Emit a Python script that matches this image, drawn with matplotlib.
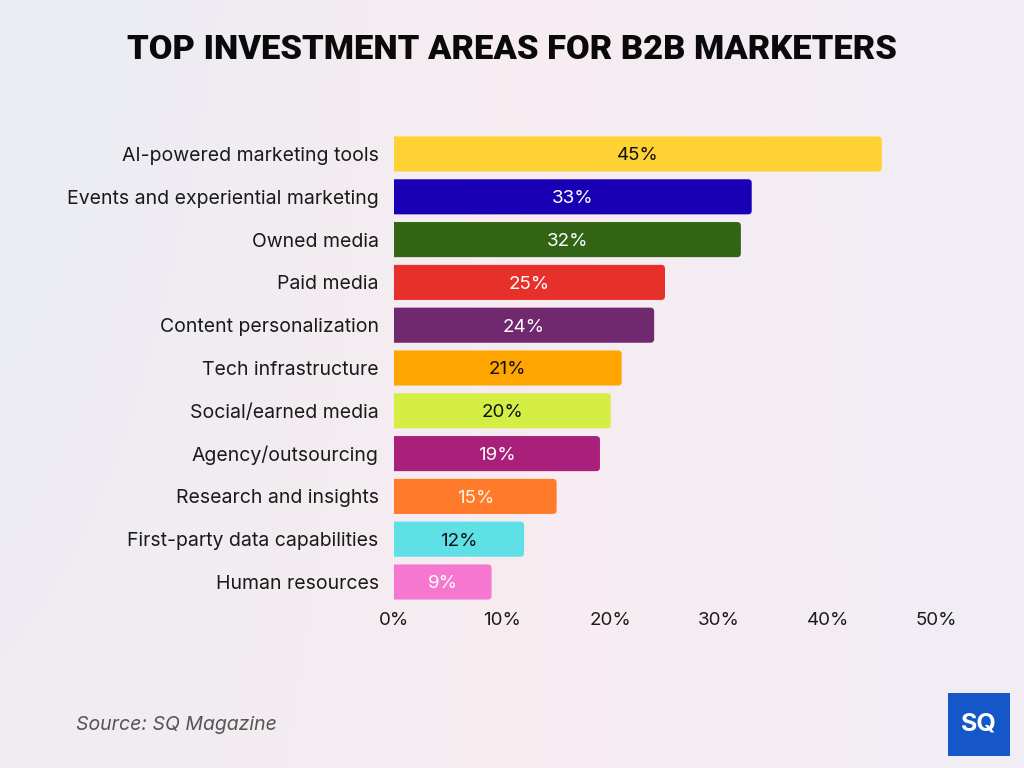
import numpy as np
import matplotlib
matplotlib.use("Agg")
import matplotlib.pyplot as plt
from matplotlib.patches import FancyBboxPatch, Rectangle

categories = [
    "AI-powered marketing tools",
    "Events and experiential marketing",
    "Owned media",
    "Paid media",
    "Content personalization",
    "Tech infrastructure",
    "Social/earned media",
    "Agency/outsourcing",
    "Research and insights",
    "First-party data capabilities",
    "Human resources",
]
values = [45, 33, 32, 25, 24, 21, 20, 19, 15, 12, 9]
bar_colors = ["#FFD234", "#1A00B4", "#336314", "#E8302A", "#70286E", "#FFA500",
              "#D4EE44", "#A8207A", "#FF7A2A", "#5EE0E6", "#F577CF"]
label_colors = ["#111111", "white", "white", "white", "white", "#111111",
                "#111111", "white", "#FFF3E0", "#111111", "white"]
xticks = [0, 10, 20, 30, 40, 50]
xtick_labels = ["0%", "10%", "20%", "30%", "40%", "50%"]

plt.rcParams['font.family'] = ['Inter', 'DejaVu Sans']

fig = plt.figure(figsize=(10.24, 7.68), dpi=100)

# background gradient
bg = fig.add_axes([0, 0, 1, 1], zorder=-10)
bg.axis("off")
h, w = 96, 128
yy, xx = np.mgrid[0:1:h * 1j, 0:1:w * 1j]
c_left = np.array([233, 236, 244]) / 255
c_mid = np.array([247, 236, 241]) / 255
c_right = np.array([241, 238, 246]) / 255
t = xx[..., None]
img = np.where(t < 0.5, c_left + (c_mid - c_left) * (t / 0.5),
               c_mid + (c_right - c_mid) * ((t - 0.5) / 0.5))
img = img + (yy[..., None]) * (np.array([247, 238, 240]) / 255 - img) * 0.5 * (1 - t)
bg.imshow(np.clip(img, 0, 1), aspect="auto", extent=[0, 1, 0, 1], origin="upper")
bg.set_xlim(0, 1)
bg.set_ylim(0, 1)

ax = fig.add_axes([394 / 1024, 1 - 603.4 / 768, (936 - 394) / 1024, (603.4 - 132.6) / 768])
ax.patch.set_alpha(0)
ypos = np.arange(len(categories))
bars = ax.barh(ypos, values, height=0.82, color=bar_colors)
ax.set_xlim(0, 50)
ax.set_ylim(10.5, -0.5)

# rounded right corners: replace bars with fancy boxes
for b in bars:
    b.set_visible(False)
    x0, y0 = b.get_x(), b.get_y()
    bw, bh = b.get_width(), b.get_height()
    fb = FancyBboxPatch((x0 - 1.0, y0), bw + 1.0, bh,
                        boxstyle="round,pad=0,rounding_size=0.35",
                        mutation_aspect=0.25,
                        facecolor=b.get_facecolor(), edgecolor="none",
                        clip_on=True)
    ax.add_patch(fb)

for i, v in enumerate(values):
    ax.text(v / 2, i, f"{v}%", ha="center", va="center_baseline",
            fontsize=13.5, color=label_colors[i])

ax.set_yticks(ypos)
ax.set_yticklabels(categories, fontsize=14, color="#1a1a1a")
ax.set_xticks(xticks)
ax.set_xticklabels(xtick_labels, fontsize=13.5, color="#1a1a1a")
ax.tick_params(axis="both", length=0)
ax.tick_params(axis="y", pad=11)
ax.tick_params(axis="x", pad=6)
for s in ax.spines.values():
    s.set_visible(False)

fig.text(0.5, 1 - 50 / 768, "TOP INVESTMENT AREAS FOR B2B MARKETERS",
         ha="center", va="center", fontsize=24.8, fontweight="black",
         family=["Roboto", "DejaVu Sans"], color="#0a0a0a")

fig.text(76 / 1024, 1 - 725 / 768, "Source: SQ Magazine", ha="left", va="center",
         fontsize=14, style="italic", color="#555555")

# logo
logo = fig.add_axes([948 / 1024, 1 - 756 / 768, 62 / 1024, 63 / 768])
logo.axis("off")
logo.set_xlim(0, 1)
logo.set_ylim(0, 1)
logo.add_patch(Rectangle((0, 0), 1, 1, facecolor="#1556C8", edgecolor="none"))
logo.text(0.5, 0.5, "SQ", ha="center", va="center", fontsize=18,
          fontweight="bold", color="white")

fig.savefig("out.png", dpi=100)
